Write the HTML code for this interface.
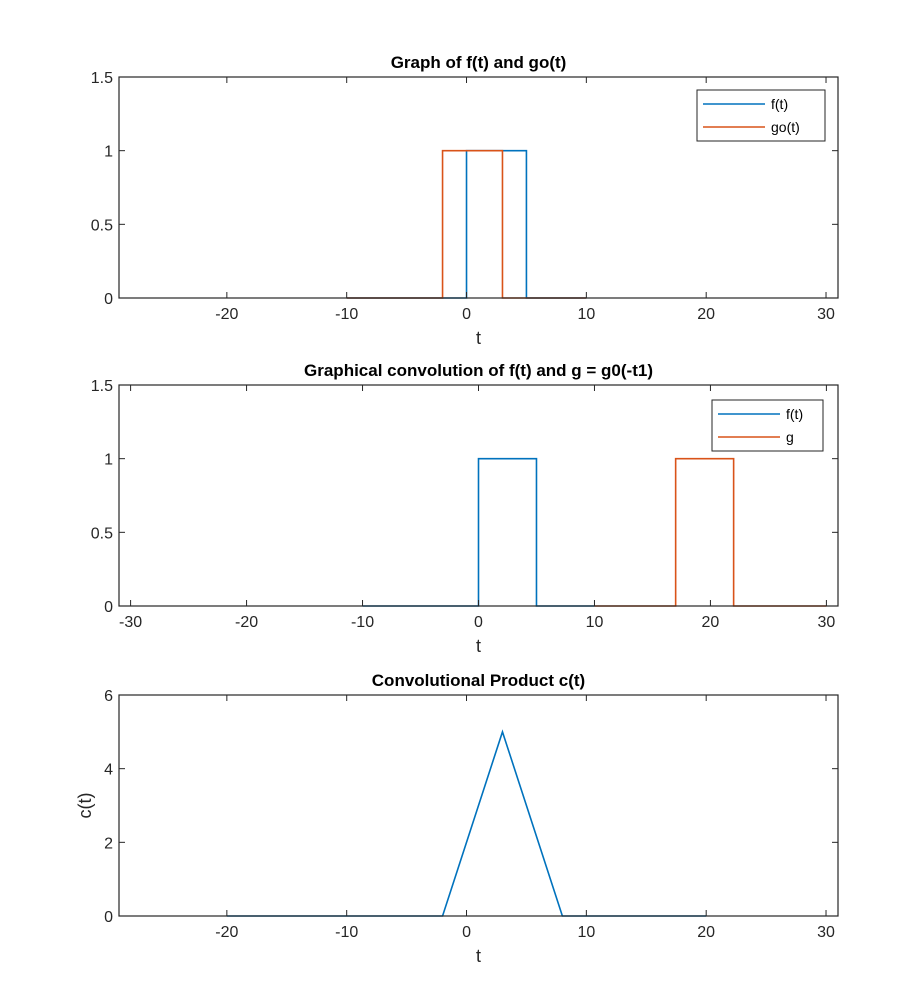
<!DOCTYPE html>
<html><head><meta charset="utf-8"><style>
html,body{margin:0;padding:0;background:#fff;}
svg{display:block;font-family:"Liberation Sans","DejaVu Sans",sans-serif;}
</style></head><body>
<svg id="fig" width="922" height="1008" viewBox="0 0 922 1008"></svg>
<script>
// Panel 1 data
const p1_f_t = [-10, 0, 0, 5, 5, 10];
const p1_f_y = [0, 0, 1, 1, 0, 0];
const p1_g_t = [-10, -2, -2, 3, 3, 10];
const p1_g_y = [0, 0, 1, 1, 0, 0];
const p1_xticks = [-20, -10, 0, 10, 20, 30];
const p1_yticks = [0, 0.5, 1, 1.5];
// Panel 2 data
const p2_f_t = [-10, 0, 0, 5, 5, 10];
const p2_f_y = [0, 0, 1, 1, 0, 0];
const p2_g_t = [10, 17, 17, 22, 22, 30];
const p2_g_y = [0, 0, 1, 1, 0, 0];
const p2_xticks = [-30, -20, -10, 0, 10, 20, 30];
const p2_yticks = [0, 0.5, 1, 1.5];
// Panel 3 data
const p3_c_t = [-20, -2, 3, 8, 20];
const p3_c_y = [0, 0, 5, 0, 0];
const p3_xticks = [-20, -10, 0, 10, 20, 30];
const p3_yticks = [0, 2, 4, 6];

const NS = "http://www.w3.org/2000/svg";
const svg = document.getElementById('fig');
const BLUE = "#0072BD", ORANGE = "#D95319";
function mk(tag, attrs, parent) {
  const e = document.createElementNS(NS, tag);
  for (const k in attrs) e.setAttribute(k, attrs[k]);
  (parent || svg).appendChild(e);
  return e;
}
function fmt(v){ return String(v).replace('-', '-'); }

function panel(opt) {
  const g = mk('g', {});
  
  
  const L = 119, R = 838, T = opt.top, B = opt.top + 221;
  const sx = v => L + (v - opt.xmin) / (opt.xmax - opt.xmin) * (R - L);
  const sy = v => B - (v - opt.ymin) / (opt.ymax - opt.ymin) * (B - T);
  // series
  opt.series.forEach(s => {
    const pts = s.t.map((t, i) => sx(t).toFixed(2) + ',' + sy(s.y[i]).toFixed(2)).join(' ');
    const pl = mk('polyline', {points: pts, fill: 'none', stroke: s.color, 'stroke-width': 1.6}, g);
    
    
  });
  // axes box
  const box = mk('rect', {x: L, y: T, width: R - L, height: B - T, fill: 'none', stroke: '#262626', 'stroke-width': 1.2}, g);
  
  
  // x ticks
  opt.xticks.forEach(v => {
    const x = sx(v);
    mk('line', {x1: x, y1: B, x2: x, y2: B - 6, stroke: '#262626', 'stroke-width': 1}, g);
    mk('line', {x1: x, y1: T, x2: x, y2: T + 6, stroke: '#262626', 'stroke-width': 1}, g);
    const tx = mk('text', {x: x, y: B + 21, 'font-size': 16, fill: '#262626', 'text-anchor': 'middle'}, g);
    tx.textContent = fmt(v);
    
    
  });
  opt.yticks.forEach(v => {
    const y = sy(v);
    mk('line', {x1: L, y1: y, x2: L + 6, y2: y, stroke: '#262626', 'stroke-width': 1}, g);
    mk('line', {x1: R, y1: y, x2: R - 6, y2: y, stroke: '#262626', 'stroke-width': 1}, g);
    const ty = mk('text', {x: L - 6, y: y + 6, 'font-size': 16, fill: '#262626', 'text-anchor': 'end'}, g);
    ty.textContent = String(v);
    
    
  });
  const xl = mk('text', {x: (L + R) / 2, y: B + 46, 'font-size': 18, fill: '#262626', 'text-anchor': 'middle'}, g);
  xl.textContent = 't';
  
  
  const ti = mk('text', {x: (L + R) / 2, y: T - 9, 'font-size': 17, 'font-weight': 'bold', fill: '#000', 'text-anchor': 'middle'}, g);
  ti.textContent = opt.title;
  
  
  if (opt.ylabel) {
    const yl = mk('text', {x: 0, y: 0, 'font-size': 18, fill: '#262626', 'text-anchor': 'middle', transform: 'translate(91,' + ((T + B) / 2) + ') rotate(-90)'}, g);
    yl.textContent = opt.ylabel;
    
    
  }
  if (opt.legend) {
    const lg = opt.legend;
    const lgG = mk('g', {}, g);
    
    
    mk('rect', {x: lg.x, y: lg.y, width: lg.w, height: 51, fill: '#fff', stroke: '#262626', 'stroke-width': 1}, lgG);
    opt.series.forEach((s, i) => {
      const yy = lg.y + 14 + i * 23;
      const en = mk('g', {}, lgG);
      
      
      mk('line', {x1: lg.x + 6, y1: yy, x2: lg.x + 68, y2: yy, stroke: s.color, 'stroke-width': 1.6}, en);
      const t = mk('text', {x: lg.x + 74, y: yy + 5, 'font-size': 14, fill: '#000'}, en);
      t.textContent = s.label;
    });
  }
}

panel({name: 'panel-f-go', top: 77, xmin: -29, xmax: 31, ymin: 0, ymax: 1.5,
  xticks: p1_xticks, yticks: p1_yticks, title: 'Graph of f(t) and go(t)',
  series: [{t: p1_f_t, y: p1_f_y, color: BLUE, label: 'f(t)', dn: 'line-f'},
           {t: p1_g_t, y: p1_g_y, color: ORANGE, label: 'go(t)', dn: 'line-go'}],
  legend: {x: 697, y: 90, w: 128}});
panel({name: 'panel-convolution', top: 385, xmin: -31, xmax: 31, ymin: 0, ymax: 1.5,
  xticks: p2_xticks, yticks: p2_yticks, title: 'Graphical convolution of f(t) and g = g0(-t1)',
  series: [{t: p2_f_t, y: p2_f_y, color: BLUE, label: 'f(t)', dn: 'line-f'},
           {t: p2_g_t, y: p2_g_y, color: ORANGE, label: 'g', dn: 'line-g'}],
  legend: {x: 712, y: 400, w: 111}});
panel({name: 'panel-product', top: 695, xmin: -29, xmax: 31, ymin: 0, ymax: 6,
  xticks: p3_xticks, yticks: p3_yticks, title: 'Convolutional Product c(t)', ylabel: 'c(t)',
  series: [{t: p3_c_t, y: p3_c_y, color: BLUE, label: 'c(t)', dn: 'line-c'}]});
</script>
</body></html>
